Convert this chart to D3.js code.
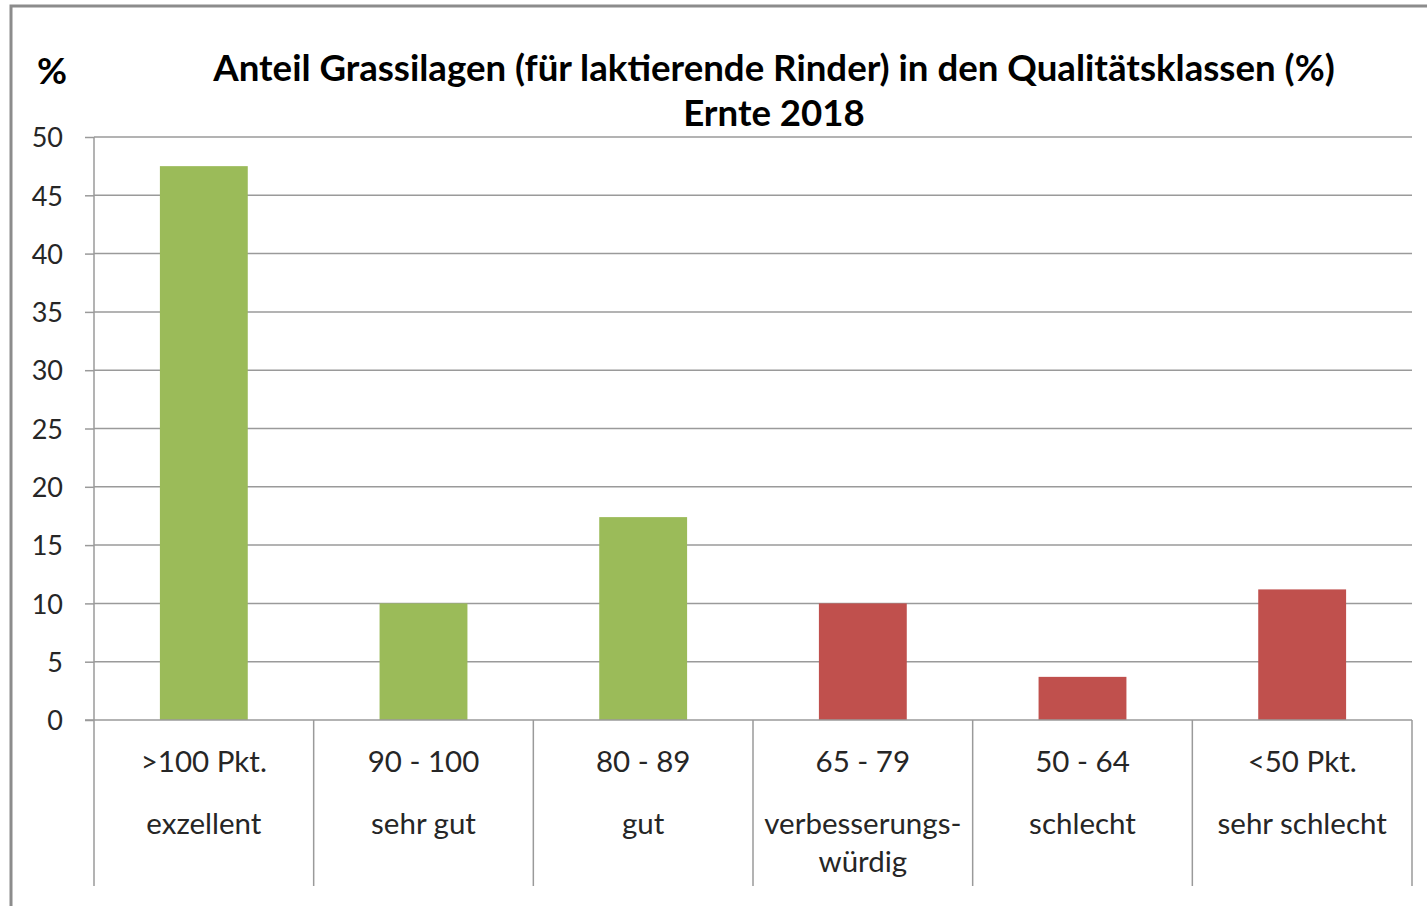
<!DOCTYPE html>
<html lang="de">
<head>
<meta charset="UTF-8">
<title>Anteil Grassilagen</title>
<script src="https://cdn.jsdelivr.net/npm/d3@7"></script>
<style>
    body { margin: 0; background: white; }
    text { font-family: Lato, "Open Sans", sans-serif; fill: #262626; }
    .tick text { font-size: 27px; fill: #262626; }
    .title { font-weight: bold; font-size: 32px; fill: #000; }
</style>
</head>
<body>
<script>
    // data
    const categories = [">100 Pkt.", "90 - 100", "80 - 89", "65 - 79", "50 - 64", "<50 Pkt."];
    const subLabels = [["exzellent"], ["sehr gut"], ["gut"], ["verbesserungs-", "würdig"], ["schlecht"], ["sehr schlecht"]];
    const values = [47.5, 10.0, 17.4, 10.0, 3.7, 11.2];
    const barColors = ["#9BBB59", "#9BBB59", "#9BBB59", "#C0504D", "#C0504D", "#C0504D"];
    const yTicks = [0, 5, 10, 15, 20, 25, 30, 35, 40, 45, 50];

    const width = 1427, height = 906;
    const plot = {left: 94, right: 1412, top: 137, bottom: 720, labelBottom: 886};

    const svg = d3.select("body").append("svg")
        .attr("width", width)
        .attr("height", height);

    // outer frame
    svg.append("rect")
        .attr("x", 11).attr("y", 6)
        .attr("width", width + 20).attr("height", height + 20)
        .attr("fill", "white")
        .attr("stroke", "#8c8c8c")
        .attr("stroke-width", 3);

    const x = d3.scaleBand()
        .domain(categories)
        .range([plot.left, plot.right])
        .padding(0);

    const y = d3.scaleLinear()
        .domain([0, 50])
        .range([plot.bottom, plot.top]);

    // gridlines
    svg.append("g")
        .selectAll("line")
        .data(yTicks.filter(d => d > 0))
        .join("line")
        .attr("x1", plot.left).attr("x2", plot.right)
        .attr("y1", d => y(d)).attr("y2", d => y(d))
        .attr("stroke", "#9a9a9a")
        .attr("stroke-width", 1.5);

    // y axis
    const yAxis = svg.append("g")
        .attr("transform", `translate(${plot.left},0)`)
        .call(d3.axisLeft(y).tickValues(yTicks).tickSize(9).tickPadding(22));
    yAxis.select(".domain").remove();
    yAxis.selectAll(".tick line").attr("stroke", "#9a9a9a").attr("stroke-width", 1.5);
    yAxis.selectAll(".tick text").attr("dy", "0.36em");

    // bars
    const barW = x.bandwidth() * 0.4;
    svg.append("g")
        .selectAll("rect")
        .data(values)
        .join("rect")
        .attr("x", (d, i) => x(categories[i]) + (x.bandwidth() - barW) / 2)
        .attr("width", barW)
        .attr("y", d => y(d))
        .attr("height", d => y(0) - y(d))
        .attr("fill", (d, i) => barColors[i]);

    // axis baseline and category dividers
    svg.append("line")
        .attr("x1", plot.left - 9).attr("x2", plot.right)
        .attr("y1", y(0)).attr("y2", y(0))
        .attr("stroke", "#9a9a9a").attr("stroke-width", 1.5);

    const bounds = categories.map(c => x(c)).concat([plot.right]);
    svg.append("g")
        .selectAll("line")
        .data(bounds)
        .join("line")
        .attr("x1", d => d).attr("x2", d => d)
        .attr("y1", (d, i) => i === 0 ? plot.top : plot.bottom)
        .attr("y2", plot.labelBottom)
        .attr("stroke", "#9a9a9a").attr("stroke-width", 1.5);

    // category labels
    const lab = svg.append("g")
        .selectAll("g")
        .data(categories)
        .join("g")
        .attr("transform", d => `translate(${x(d) + x.bandwidth() / 2},0)`);

    lab.append("text")
        .attr("y", 772)
        .attr("text-anchor", "middle")
        .attr("font-size", 29.5)
        .text(d => d);

    lab.each(function(d, i) {
        d3.select(this).selectAll("text.sub")
            .data(subLabels[i])
            .join("text").attr("class", "sub")
            .attr("y", (s, j) => 834 + j * 38)
            .attr("text-anchor", "middle")
            .attr("font-size", 29.5)
            .text(s => s);
    });

    // title
    const t1 = svg.append("text").attr("class", "title")
        .attr("x", 774).attr("y", 81)
        .attr("text-anchor", "middle")
        .text("Anteil Grassilagen (für laktierende Rinder) in den Qualitätsklassen (%)");
    const w1 = t1.node().getComputedTextLength();
    const fs = 32 * 1122 / w1;
    t1.style("font-size", fs + "px");

    svg.append("text").attr("class", "title")
        .attr("x", 774).attr("y", 126)
        .attr("text-anchor", "middle")
        .style("font-size", fs + "px")
        .text("Ernte 2018");

    svg.append("text").attr("class", "title")
        .attr("x", 52).attr("y", 84)
        .attr("text-anchor", "middle")
        .style("font-size", fs + "px")
        .text("%");
</script>
</body>
</html>
